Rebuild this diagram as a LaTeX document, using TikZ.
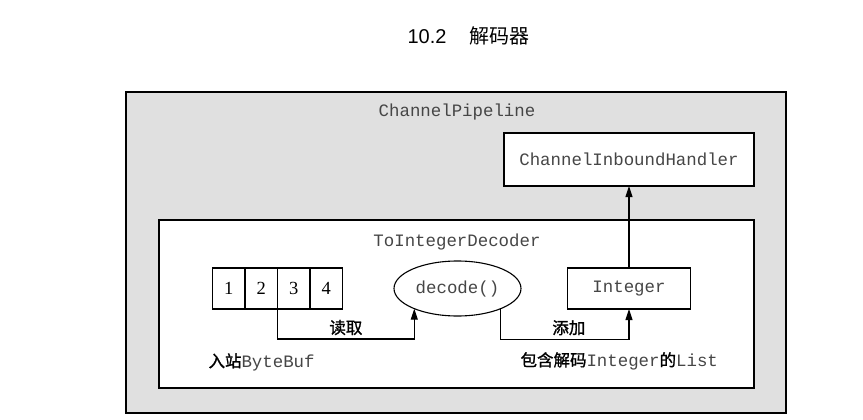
\documentclass[tikz,border=0pt]{standalone}
\usepackage{fontspec}
\setmainfont{Liberation Serif}
\setsansfont{Liberation Sans}
\setmonofont{Liberation Mono}
\newfontfamily\cjk{Noto Sans CJK SC}
\newfontfamily\cjkbold[FakeBold=1.2]{Noto Sans CJK SC}
\usetikzlibrary{positioning, arrows.meta, shapes.geometric}
\definecolor{pipegray}{RGB}{224,224,224}
\definecolor{codegray}{RGB}{70,70,70}
\newcommand{\code}[1]{{\fontsize{17.4}{20}\selectfont\ttfamily\color{codegray}#1}}
\newcommand{\zh}[1]{{\cjkbold #1}}

\tikzset{
    frame/.style={draw, line width=1.1pt, inner sep=0pt, outer sep=0pt},
    cell/.style={frame, minimum width=32.5pt, minimum height=41pt, font=\fontsize{18.5}{20}\selectfont},
    arr/.style={-{Triangle[length=11pt, width=7pt]}, line width=1.1pt},
    txt/.style={font=\fontsize{16.5}{19}\selectfont}
}

\begin{document}
\begin{tikzpicture}[x=1pt, y=-1pt, txt]
        \useasboundingbox[fill=white] (0,0) rectangle (863,420);

        \node[font=\fontsize{20}{24}\selectfont, anchor=west] (title) at (404,36) {\sffamily 10.2\hspace{23pt}{\cjk 解码器}};

        \node[frame, fill=pipegray, minimum width=660pt, minimum height=321pt] (pipe) at (456,252.5) {};
        \node[] (pipeLabel) at (457,112) {\code{ChannelPipeline}};

        \node[frame, fill=white, minimum width=250pt, minimum height=53pt] (inh) at (629,159.5) {\code{ChannelInboundHandler}};

        \node[frame, fill=white, minimum width=595pt, minimum height=168pt] (dec) at (456.5,304) {};
        \node[] (decLabel) at (457,242) {\code{ToIntegerDecoder}};

        \node[cell] (c1) at (228.75,288.5) {1};
        \node[cell, right=0pt of c1] (c2) {2};
        \node[cell, right=0pt of c2] (c3) {3};
        \node[cell, right=0pt of c3] (c4) {4};

        \node[ellipse, frame, minimum width=127pt, minimum height=55pt] (decode) at (457.5,288.5) {\code{decode()}};

        \node[frame, minimum width=123pt, minimum height=41pt] (int) at (629,288.5) {\code{Integer}};

        \draw [arr] (c3.south west) -- ++(0,30) -| node[pos=0.25, above] {\zh{读取}} (decode.205);
        \draw [arr] (decode.-25) -- ++(0,30.5) -| node[pos=0.25, above, xshift=4pt] {\zh{添加}} (int.south);
        \draw [arr] (int.north) -- (inh.south);

        \node[anchor=west] (inBuf) at (205,362) {\zh{入站}\code{ByteBuf}};
        \node[anchor=west] (outList) at (517,361) {\zh{包含解码}\code{Integer}\zh{的}\code{List}};
    \end{tikzpicture}
\end{document}
